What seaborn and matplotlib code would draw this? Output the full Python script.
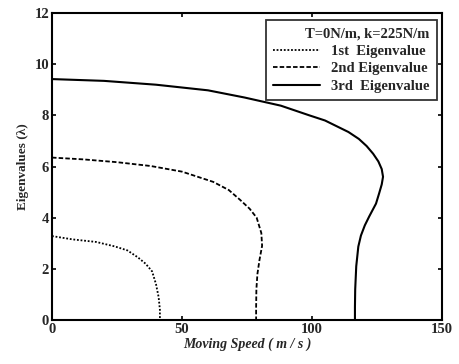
import numpy as np
import pandas as pd
import matplotlib
matplotlib.use("Agg")
import matplotlib.pyplot as plt
import seaborn as sns

# Data
speed_1st = [0, 8, 17, 24, 29, 33, 36, 38.5, 40, 41, 41.5, 41.5]
eig_1st   = [3.28, 3.15, 3.05, 2.88, 2.72, 2.45, 2.2, 1.9, 1.4, 0.9, 0.4, 0.0]

speed_2nd = [0, 12, 25, 38, 50, 62, 68, 72.3, 76, 78.7, 80.5, 80.8, 79.8, 79.0, 78.6, 78.5, 78.5]
eig_2nd   = [6.35, 6.28, 6.17, 6.02, 5.8, 5.4, 5.08, 4.7, 4.35, 4.0, 3.4, 2.9, 2.35, 1.8, 1.2, 0.5, 0.0]

speed_3rd = [0, 20, 40, 60, 74, 88, 99, 105, 110, 114, 118, 121, 123.5, 125.5, 126.8, 127.3, 126.8, 125.8, 124.6, 122, 120.3, 118.8, 117.8, 117, 116.6, 116.5, 116.5]
eig_3rd   = [9.42, 9.35, 9.2, 8.98, 8.7, 8.38, 8.0, 7.8, 7.55, 7.35, 7.08, 6.8, 6.5, 6.2, 5.9, 5.6, 5.3, 4.95, 4.55, 4.05, 3.7, 3.3, 2.87, 2.1, 1.2, 0.5, 0.0]

series_labels = ["1st  Eigenvalue", "2nd Eigenvalue", "3rd  Eigenvalue"]
legend_title = "T=0N/m, k=225N/m"
x_ticks = [0, 50, 100, 150]
y_ticks = [0, 2, 4, 6, 8, 10, 12]

sns.set_style("ticks")
plt.rcParams["font.family"] = ["Liberation Serif", "DejaVu Serif"]
plt.rcParams["font.weight"] = "bold"

fig = plt.figure(figsize=(4.6, 3.64), dpi=100)
ax = fig.add_axes([0.113, 0.121, 0.848, 0.843])

styles = [
    dict(linestyle=(0, (1, 1)), linewidth=1.3),
    dict(linestyle=(0, (2.5, 1.2)), linewidth=1.3),
    dict(linestyle="-", linewidth=1.5),
]
for xs, ys, lab, st in zip([speed_1st, speed_2nd, speed_3rd],
                           [eig_1st, eig_2nd, eig_3rd],
                           series_labels, styles):
    df = pd.DataFrame({"x": xs, "y": ys})
    sns.lineplot(data=df, x="x", y="y", sort=False, estimator=None,
                 color="black", label=lab, ax=ax, **st)

ax.set_xlim(0, 150)
ax.set_ylim(0, 12)
ax.set_xticks(x_ticks)
ax.set_yticks(y_ticks)
ax.tick_params(direction="in", length=3, width=1.2, top=True, right=True,
               labelsize=10.5, pad=2, color="black")
for lbl in ax.get_xticklabels() + ax.get_yticklabels():
    lbl.set_fontweight("bold")
for sp in ax.spines.values():
    sp.set_linewidth(1.5)
    sp.set_color("black")

ax.set_xlabel("Moving Speed ( m / s )", fontsize=10, fontweight="bold", style="italic", labelpad=1)
ax.set_ylabel("Eigenvalues (λ)", fontsize=9.5, fontweight="bold", labelpad=4)

leg = ax.legend(title=legend_title, loc="upper right", bbox_to_anchor=(0.987, 0.978),
                frameon=True, fancybox=False, edgecolor="black", fontsize=10.5,
                title_fontsize=10.5, handlelength=3.2, borderpad=0.5,
                labelspacing=0.3, handletextpad=0.8, borderaxespad=0)
leg.get_frame().set_linewidth(1.3)
leg._legend_box.align = "right"
leg.get_title().set_fontweight("bold")
for t in leg.get_texts():
    t.set_fontweight("bold")

fig.savefig("out.png", dpi=100)
